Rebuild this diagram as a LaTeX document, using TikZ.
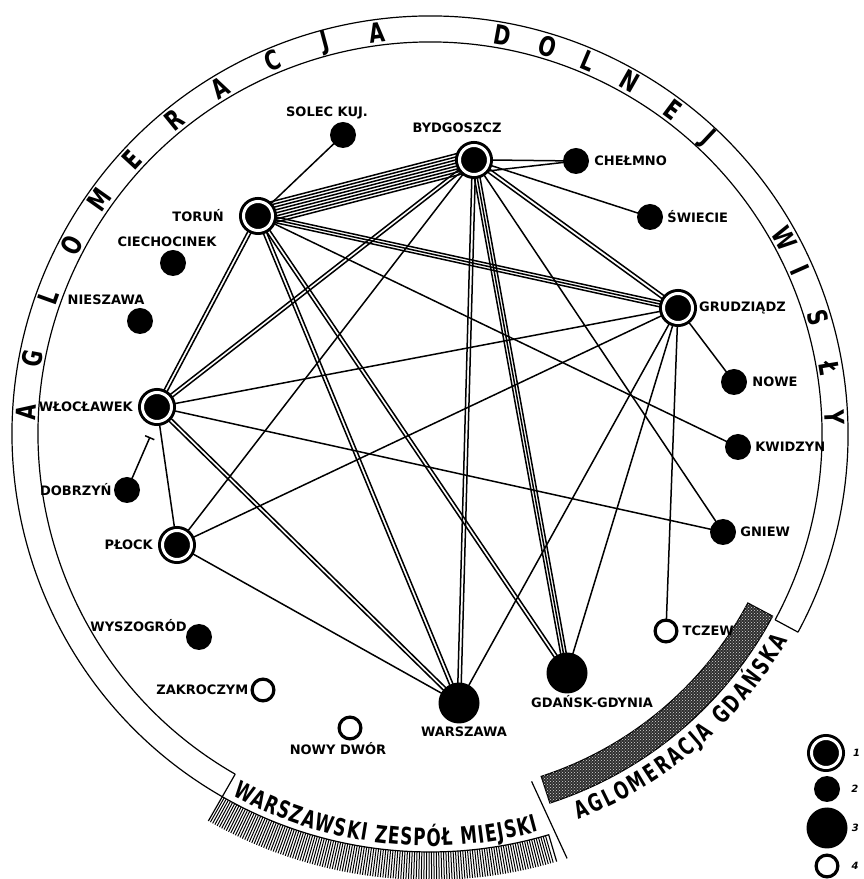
\documentclass[tikz,border=0pt]{standalone}
\usepackage{fontspec}
\setmainfont{DejaVu Sans}
\newfontfamily\ringfont[FakeStretch=0.75]{DejaVu Sans}
\newfontfamily\bandfont[FakeStretch=0.7]{DejaVu Sans}
\usepackage{tikz}
\usetikzlibrary{arrows,positioning,calc,backgrounds,decorations.text,patterns}
\tikzstyle{hub}=[circle, fill=black, draw=black, double=white, double distance=3pt, line width=3pt, minimum size=29pt, inner sep=0pt]
\tikzstyle{tw}=[circle, fill=black, minimum size=26pt, inner sep=0pt]
\tikzstyle{bt}=[circle, fill=black, minimum size=41pt, inner sep=0pt]
\tikzstyle{ot}=[circle, draw=black, fill=white, line width=3.2pt, minimum size=21.8pt, inner sep=0pt]
\tikzstyle{lb}=[font=\bfseries\fontsize{13}{13}\selectfont, inner sep=0pt]
\tikzstyle{rl}=[font=\ringfont\bfseries\fontsize{27}{27}\selectfont, inner sep=0pt]
\tikzstyle{ln}=[line width=1.5pt]
\tikzstyle{ring}=[line width=1.2pt]
% #1 lines, #2 spacing (pt), between #3 and #4
\newcommand{\links}[4]{%
  \foreach \k in {1,...,#1}{%
    \pgfmathsetmacro{\off}{(\k-(#1+1)/2)*#2}%
    \draw[ln] ($(#3)!\off pt!90:(#4)$) -- ($(#4)!\off pt!-90:(#3)$);
  }}

\begin{document}
\begin{tikzpicture}[x=1pt, y=1pt, node distance=4pt]
 \useasboundingbox (0,0) rectangle (864,879);
 \coordinate (ctr) at (430,445);

 % frame
 \draw[ring] (ctr) ++(-28.3:392) arc[start angle=-28.3, end angle=240.2, radius=392];
 \draw[ring] (ctr) ++(-28.3:418) arc[start angle=-28.3, end angle=240.2, radius=418];
 \draw[ring] (ctr) ++(-28.3:392) -- ++(-28.3:26);
 \draw[ring] (ctr) ++(240.2:392) -- ++(240.2:26);
 \foreach \a in {240.5,240.83,...,286.3}
   \draw[line width=1pt] ($(ctr)+(\a:418)$) -- ($(ctr)+(\a:446)$);
 \draw[ring] (ctr) ++(240.2:446) -- ++(240.2:-28)
   arc[start angle=240.2, end angle=286.5, radius=418] -- ++(286.5:28);
 \filldraw[ring, fill=black!82, postaction={pattern=crosshatch dots, pattern color=white!85!black}]
   (ctr) ++(288:360) arc[start angle=288, end angle=332, radius=360]
   -- ++(332:28) arc[start angle=332, end angle=288, radius=388] -- cycle;
 \draw[ring] ($(ctr)+(286.3:362)$) -- ($(ctr)+(287.9:446)$);

 \foreach \l/\a [count=\i] in {A/176.9,G/169.2,L/160.3,O/152.3,M/144.7,E/137.3,R/129.2,A/121.3,C/112.9,J/105.0,A/97.5,
   D/79.7,O/73.1,L/67.0,N/60.5,E/53.2,J/46.8,W/28.9,I/23.9,S/16.7,Ł/9.4,Y/2.4}
   \node[rl, rotate=\a-90] (rl\i) at ($(ctr)+(\a:405)$) {\l};
 \path[decorate, decoration={text along path, text align=fit to path,
   text={|\bandfont\bfseries\fontsize{24}{24}\selectfont|WARSZAWSKI ZESPÓŁ MIEJSKI}}]
   (ctr) ++(241.3:412) arc[start angle=241.3, end angle=285.3, radius=412];
 \path[decorate, decoration={text along path, text align=fit to path,
   text={|\bandfont\bfseries\fontsize{24}{24}\selectfont|AGLOMERACJA GDAŃSKA}}]
   (ctr) ++(291:413) arc[start angle=291, end angle=330, radius=413];

 % towns
 \node[hub] (byd) at (474,719) {};
 \node[hub] (tor) at (258,663) {};
 \node[hub] (gru) at (678,571) {};
 \node[hub] (wlo) at (157,472) {};
 \node[hub] (plo) at (177,334) {};
 \node[bt] (war) at (459,176) {};
 \node[bt] (gda) at (567,206) {};
 \node[tw] (sol) at (343,744) {};
 \node[tw] (che) at (576,718) {};
 \node[tw] (swi) at (650,662) {};
 \node[tw] (cie) at (173,616) {};
 \node[tw] (nie) at (140,558) {};
 \node[tw] (now) at (734,497) {};
 \node[tw] (kwi) at (738,432) {};
 \node[tw] (gni) at (723,347) {};
 \node[tw] (dob) at (127,389) {};
 \node[tw] (wys) at (199,242) {};
 \node[ot] (zak) at (263,189) {};
 \node[ot] (ndw) at (350,151) {};
 \node[ot] (tcz) at (666,248) {};
 \coordinate (dobt) at (150,442);

 \node[lb, above=11pt of byd, xshift=-17pt] (byd-t) {BYDGOSZCZ};
 \node[lb, left=18pt of tor] (tor-t) {TORUŃ};
 \node[lb, right=5pt of gru] (gru-t) {GRUDZIĄDZ};
 \node[lb, left=8pt of wlo] (wlo-t) {WŁOCŁAWEK};
 \node[lb, left=8pt of plo] (plo-t) {PŁOCK};
 \node[lb, below=3pt of war, xshift=5pt] (war-t) {WARSZAWA};
 \node[lb, below=2pt of gda, xshift=25pt] (gda-t) {GDAŃSK-GDYNIA};
 \node[lb, above=2pt of sol, xshift=-16pt] (sol-t) {SOLEC KUJ.};
 \node[lb, right=5pt of che] (che-t) {CHEŁMNO};
 \node[lb, right=4pt of swi] (swi-t) {ŚWIECIE};
 \node[lb, above=3pt of cie, xshift=-6pt] (cie-t) {CIECHOCINEK};
 \node[lb, above=3pt of nie, xshift=-34pt] (nie-t) {NIESZAWA};
 \node[lb, right=5pt of now] (now-t) {NOWE};
 \node[lb, right=4pt of kwi] (kwi-t) {KWIDZYN};
 \node[lb, right=4pt of gni] (gni-t) {GNIEW};
 \node[lb, left=2pt of dob] (dob-t) {DOBRZYŃ};
 \node[lb, left=-1pt of wys, yshift=11pt] (wys-t) {WYSZOGRÓD};
 \node[lb, left=2pt of zak] (zak-t) {ZAKROCZYM};
 \node[lb, below=2pt of ndw, xshift=-12pt] (ndw-t) {NOWY DWÓR};
 \node[lb, right=4pt of tcz] (tcz-t) {TCZEW};

 % legend
 \node[hub] (lg1) at (826,126) {};
 \node[tw] (lg2) at (827,90) {};
 \node[bt] (lg3) at (827,51) {};
 \node[ot] (lg4) at (827,13) {};
 \foreach \n/\d in {1/11pt,2/11pt,3/4pt,4/12pt}
   \node[font=\bfseries\itshape\fontsize{10}{10}\selectfont, inner sep=0pt, right=\d of lg\n] (lg\n-t) {\n};

 % links
 \begin{scope}[on background layer]
  \links{8}{3}{tor}{byd}
  \links{3}{2.8}{tor}{gru}
  \links{2}{3.4}{tor}{wlo}
  \links{2}{3.4}{tor}{war}
  \links{2}{3.4}{tor}{gda}
  \links{2}{3.6}{byd}{gru}
  \links{2}{3.4}{byd}{war}
  \links{3}{2.8}{byd}{gda}
  \links{2}{3.4}{byd}{wlo}
  \links{2}{3.4}{wlo}{war}
  \draw[ln] (tor.center) -- (sol.center);
  \draw[ln] (tor.center) -- (kwi.center);
  \draw[ln] (byd.east) -- (che.center);
  \draw[ln] (byd.south east) -- (che.center);
  \draw[ln] (byd.center) -- (swi.center);
  \draw[ln] (byd.center) -- (gni.center);
  \draw[ln] (byd.center) -- (plo.center);
  \draw[ln] (wlo.center) -- (gru.center);
  \draw[ln] (wlo.center) -- (gni.center);
  \draw[ln] (wlo.center) -- (plo.center);
  \draw[ln] (plo.center) -- (gru.center);
  \draw[ln] (plo.center) -- (war.center);
  \draw[ln] (gru.center) -- (now.center);
  \draw[ln] (gru.center) -- (war.center);
  \draw[ln] (gru.center) -- (gda.center);
  \draw[ln] (gru.center) -- (tcz.center);
  \draw[ln, -|] (dob.center) -- (dobt);
 \end{scope}
\end{tikzpicture}
\end{document}
